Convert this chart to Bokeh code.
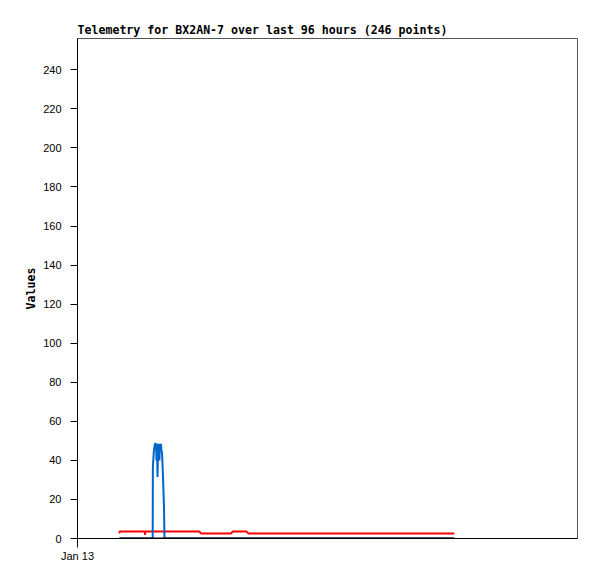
from bokeh.plotting import figure
from bokeh.models import Range1d, FixedTicker
from bokeh.embed import file_html
from bokeh.resources import INLINE

# Hours since Jan 13 00:00
title_text = "Telemetry for BX2AN-7 over last 96 hours (246 points)"
x_tick_hours = [0]
x_tick_labels = {0: "Jan 13"}
y_ticks = list(range(0, 241, 20))

black_t = [12.0, 30.0, 60.0, 90.0, 108.0]
black_v = [0, 0, 0, 0, 0]

red_t = [12.0, 12.1, 19.30, 19.35, 19.40, 34.9, 35.4, 44.0, 44.5, 48.4, 49.0, 108.0]
red_v = [2.6, 3.6, 3.6, 1.8, 3.6, 3.6, 2.6, 2.6, 3.6, 3.6, 2.6, 2.6]

blue_t = [12.0, 21.55, 21.60, 21.87, 22.21, 22.50, 22.64, 22.78, 22.93, 23.13,
          23.48, 23.63, 23.79, 23.93, 24.07, 24.22, 24.50, 24.79, 24.93, 108.0]
blue_v = [0, 0, 36.3, 44.5, 48.5, 48.5, 40.0, 48.5, 31.5, 48.5,
          40.0, 48.5, 44.5, 48.5, 44.5, 44.5, 31.7, 16.3, 0, 0]

p = figure(width=589, height=571, output_backend="svg", toolbar_location=None,
           x_range=Range1d(0, 143.3), y_range=Range1d(0, 256),
           min_border_left=77, min_border_top=38, min_border_right=12,
           min_border_bottom=33)

p.title.text = title_text
p.title.text_font = "DejaVu Sans Mono"
p.title.text_font_style = "bold"
p.title.text_font_size = "11.6px"
p.title.text_color = "black"
p.title.align = "left"
p.title.standoff = 3
p.title.offset = 0

p.outline_line_color = "#555555"
p.outline_line_width = 1
p.xgrid.visible = False
p.ygrid.visible = False
p.background_fill_color = "white"
p.border_fill_color = "white"

p.line(red_t, red_v, line_color="#ff0000", line_width=2)
p.line(blue_t, blue_v, line_color="#0066cc", line_width=2)
p.line(black_t, black_v, line_color="#000000", line_width=2)

xa = p.xaxis[0]
xa.ticker = FixedTicker(ticks=x_tick_hours)
xa.major_label_overrides = x_tick_labels
xa.minor_tick_line_color = None
xa.major_tick_out = 9
xa.major_tick_in = 0
xa.axis_line_color = "black"
xa.major_tick_line_color = "black"
xa.major_label_text_font = "Liberation Sans"
xa.major_label_text_font_size = "11px"
xa.major_label_text_color = "black"
xa.major_label_standoff = 2

ya = p.yaxis[0]
ya.ticker = FixedTicker(ticks=y_ticks)
ya.minor_tick_line_color = None
ya.major_tick_out = 7
ya.major_tick_in = 0
ya.axis_line_color = "black"
ya.major_tick_line_color = "black"
ya.major_label_text_font = "Liberation Sans"
ya.major_label_text_font_size = "11px"
ya.major_label_text_color = "black"
ya.major_label_standoff = 9
ya.axis_label = "Values"
ya.axis_label_text_font = "DejaVu Sans Mono"
ya.axis_label_text_font_style = "bold"
ya.axis_label_text_font_size = "11.6px"
ya.axis_label_text_color = "black"
ya.axis_label_standoff = 2

open("out.html", "w").write(file_html(p, INLINE))
